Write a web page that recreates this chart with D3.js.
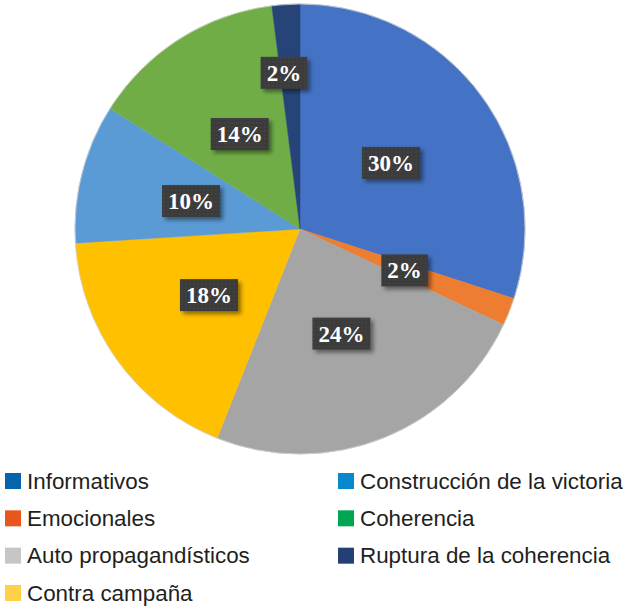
<!DOCTYPE html>
<html><head><meta charset="utf-8">
<script src="https://cdn.jsdelivr.net/npm/d3@7/dist/d3.min.js"></script>
<style>body{margin:0;background:#fff}svg{display:block}</style>
</head><body>
<svg id="c" width="627" height="607"></svg>
<script>
const categories = ["Informativos","Emocionales","Auto propagandísticos","Contra campaña","Construcción de la victoria","Coherencia","Ruptura de la coherencia"];
const values = [30, 2, 24, 18, 10, 14, 2];
const labels = ["30%","2%","24%","18%","10%","14%","2%"];
const sliceColors = ["#4472C4","#ED7D31","#A5A5A5","#FFC000","#5B9BD5","#70AD47","#264478"];
const legendOrder = ["Informativos","Construcción de la victoria","Emocionales","Coherencia","Auto propagandísticos","Ruptura de la coherencia","Contra campaña"];
const legendColors = {"Informativos":"#0565AB","Emocionales":"#E8561C","Auto propagandísticos":"#C5C6C8","Contra campaña":"#FFD146","Construcción de la victoria":"#0787CC","Coherencia":"#00A651","Ruptura de la coherencia":"#233F73"};

const svg = d3.select("#c");
const defs = svg.append("defs");
const pat = defs.append("pattern").attr("id","tex").attr("width",4).attr("height",4).attr("patternUnits","userSpaceOnUse");
pat.append("rect").attr("width",4).attr("height",4).attr("fill","#3b3b3b");
pat.append("circle").attr("cx",1).attr("cy",1).attr("r",0.8).attr("fill","#4a4a4a");
const f = defs.append("filter").attr("id","sh").attr("x","-20%").attr("y","-20%").attr("width","150%").attr("height","160%");
f.append("feDropShadow").attr("dx",3).attr("dy",3).attr("stdDeviation",2).attr("flood-color","#000").attr("flood-opacity",0.45);

const cx = 300, cy = 229, R = 225;
const pie = d3.pie().sort(null).value(d => d);
const arcs = pie(values);
const arc = d3.arc().innerRadius(0).outerRadius(R);
const g = svg.append("g").attr("transform",`translate(${cx},${cy})`);
g.selectAll("path.s").data(arcs).join("path").attr("class","s")
  .attr("d",arc).attr("fill",(d,i)=>sliceColors[i])
  .attr("stroke",(d,i)=>sliceColors[i]).attr("stroke-width",0.5);
g.append("circle").attr("r",R).attr("fill","none").attr("stroke","#d0d0d0").attr("stroke-width",0.8);

// the last thin slice's label sits further out than the centroid
const outerLabelArc = d3.arc().innerRadius(2*157 - R*0).outerRadius(0);
function labelPos(d,i){
  if (i === values.length-1) {
    const a = (d.startAngle + d.endAngle)/2 - 0.04;
    const r = 157;
    return [Math.sin(a)*r, -Math.cos(a)*r];
  }
  return arc.centroid(d);
}
const lab = g.selectAll("g.l").data(arcs).join("g").attr("class","l")
  .attr("transform",(d,i)=>`translate(${labelPos(d,i)})`);
lab.each(function(d,i){
  const el = d3.select(this);
  const r = el.append("rect").attr("fill","url(#tex)").attr("filter","url(#sh)");
  const t = el.append("text").text(labels[i]).attr("text-anchor","middle").attr("dy","0.35em")
    .attr("font-family","Liberation Serif, Times New Roman, serif").attr("font-weight","bold")
    .attr("font-size",23).attr("fill","#fff");
  const bb = t.node().getBBox();
  const w = bb.width + 12, h = 32;
  r.attr("x",-w/2).attr("y",-h/2).attr("width",w).attr("height",h);
});

const lg = svg.append("g");
const rowY = d3.scalePoint().domain([0,1,2,3]).range([481,593]);
const colX = [5, 338];
legendOrder.forEach((name,i)=>{
  const col = i%2, row = Math.floor(i/2);
  const x = colX[col], y = rowY(row);
  lg.append("rect").attr("x",x).attr("y",y-8).attr("width",16).attr("height",16).attr("fill",legendColors[name]);
  lg.append("text").attr("x",x+22).attr("y",y+7.5).text(name)
    .attr("font-family","Liberation Sans, Arial, Helvetica, sans-serif").attr("font-size",22.4)
    .attr("fill","#231f20");
});
</script>
</body></html>
